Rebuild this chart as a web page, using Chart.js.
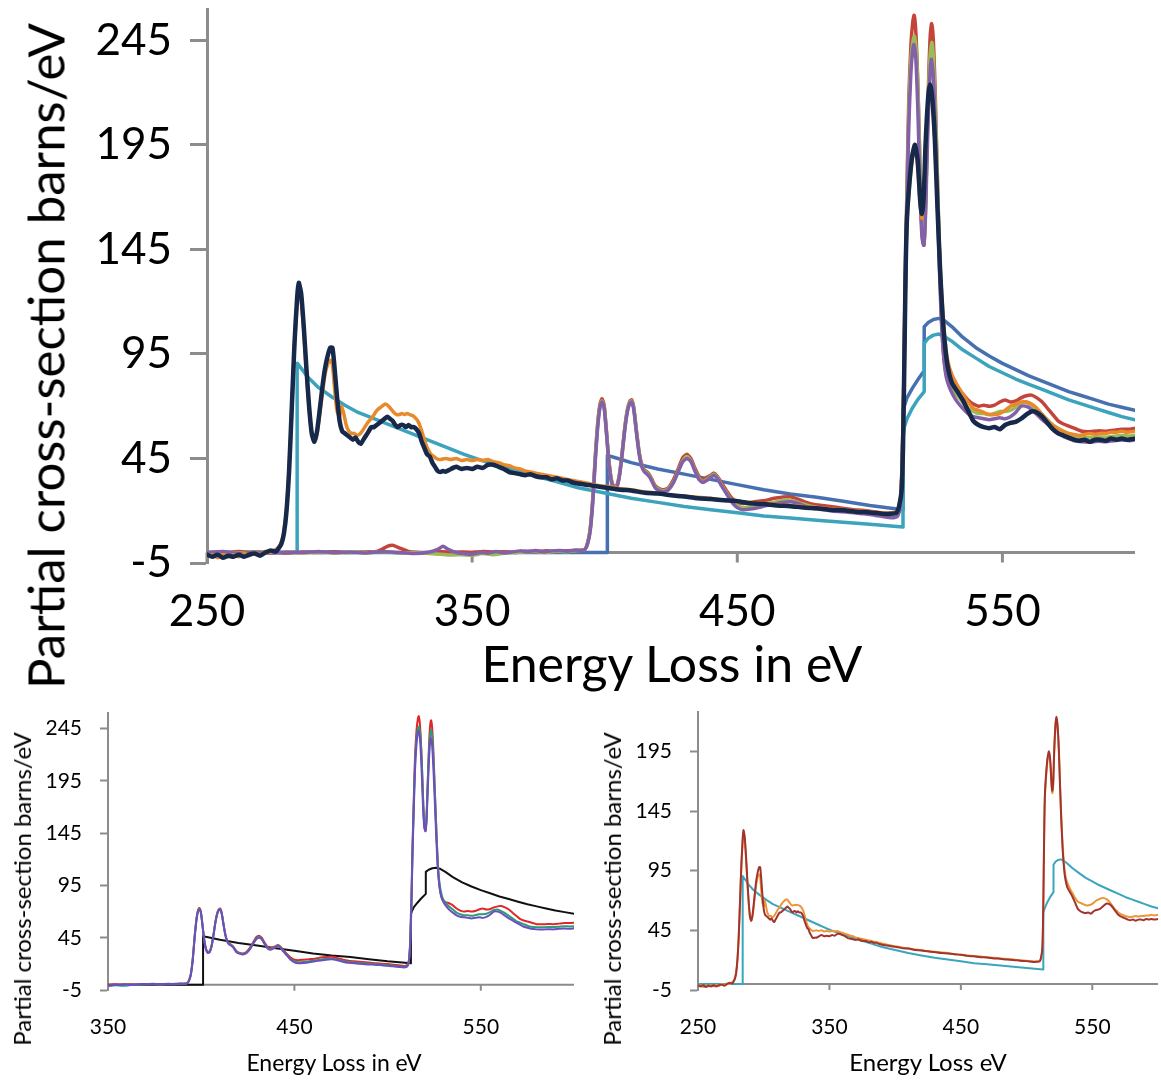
<!DOCTYPE html>
<html>
<head>
<meta charset="utf-8">
<script src="https://cdn.jsdelivr.net/npm/chart.js@4.4.0/dist/chart.umd.min.js"></script>
<style>
  html, body { margin: 0; padding: 0; background: #fff; }
  body { width: 1161px; height: 1083px; position: relative; overflow: hidden; font-family: Lato, "Open Sans", sans-serif; color: #000; }
  canvas { position: absolute; }
  .t { position: absolute; white-space: nowrap; line-height: 1; transform: translate(-50%, -50%); }
  .r { transform: translate(-50%, -50%) rotate(-90deg); }
</style>
</head>
<body>
<canvas id="main" width="1161" height="700" style="left:0;top:0"></canvas>
<canvas id="nitrogen" width="590" height="383" style="left:0;top:700px"></canvas>
<canvas id="carbon" width="571" height="383" style="left:590px;top:700px"></canvas>

<div class="t" style="left:672px;top:663px;font-size:50px">Energy Loss in eV</div>
<div class="t r" style="left:45px;top:356px;font-size:51px">Partial cross-section barns/eV</div>
<div class="t" style="left:334px;top:1062px;font-size:23px">Energy Loss in eV</div>
<div class="t r" style="left:22px;top:889px;font-size:24px">Partial cross-section barns/eV</div>
<div class="t" style="left:928px;top:1062px;font-size:24px">Energy Loss eV</div>
<div class="t r" style="left:612px;top:889px;font-size:24px">Partial cross-section barns/eV</div>

<script>
// Tick positions (eV and barns/eV)
const xTicksWide = [250, 350, 450, 550];
const xTicksNarrow = [350, 450, 550];
const yTicksTall = [-5, 45, 95, 145, 195, 245];
const yTicksShort = [-5, 45, 95, 145, 195];

// Measured carbon-edge spectrum A  [energy eV, cross-section]
const carbonSpecA = [[250,-1],[252,-2],[254,-1],[256,-2.5],[258,-1.5],[260,-2],[262,-1],[264,-2],[266,-1],[268,-0.5],[270,-1.5],[272,0],[274,1],[276,0.5],[277,2],[278,4],[279,9],[280,20],[281,40],[282,70],[283,100],[284,122],[284.6,129],[285.5,124],[286.5,108],[287.5,88],[288.5,70],[289.5,57],[290.5,53],[291.5,58],[292.5,68],[293.5,79],[294.5,88],[295.5,94],[296.5,98],[297.3,98],[298,90],[299,75],[300,63],[301,58],[302,57],[303,56],[304,55],[305,54],[306,55],[307,53],[308,52],[309,54],[310,56],[311,58],[312,60],[313,60],[314,61],[315,62],[316,63],[317,64],[318,65],[319,64],[320,63],[321,61],[322,60],[323,61],[324,61],[325,60],[326,61],[327,60],[328,60],[329,59],[330,57],[331,53],[332,50],[333,47],[334,46],[335,43],[336,41],[337,39],[338,38.5],[339,39],[340,38.7],[342,40],[344,41],[346,40],[348,40.5],[350,40],[352,41],[354,40.5],[356,42],[358,42],[360,41],[362,40],[364,38.5],[366,38],[368,37.5],[370,37],[372,37.5],[374,36.5],[376,36],[378,36],[380,35],[382,35.5],[384,34.5],[386,34.5],[388,33.5],[390,33],[394,32.3],[398,31.5],[402,30.8],[406,30],[410,29.7],[415,28.6],[420,28.2],[425,27.4],[430,26.8],[435,26],[440,25.6],[445,25],[450,24.6],[455,23.6],[460,23.2],[465,22.5],[470,22.2],[475,21.5],[480,21.2],[485,20.5],[490,20.2],[495,19.5],[500,19.2],[505,18.5],[508,18.6],[510,19],[511,22],[512,30],[512.5,50],[513,90],[513.5,135],[514,160],[515,178],[516,190],[517,195],[518,188],[519,168],[519.6,162],[520.3,170],[521,195],[522,218],[522.7,224],[523.5,218],[524.5,198],[525.5,165],[526.5,135],[527.5,112],[528.5,97],[529.5,88],[531,81],[533,77],[535,73],[537,68],[539,63],[541,61],[543,60],[545,59.5],[547,60],[549,59],[551,61],[553,62],[555,62.5],[557,64],[559,66],[561,67.5],[563,67],[565,65],[567,62],[569,59],[571,57],[573,56],[575,55],[577,54],[579,53.5],[581,54],[583,53],[585,54],[587,54],[589,53.5],[591,54.5],[593,54],[595,54.5],[597,54],[600,54.5]];

// Measured carbon-edge spectrum B
const carbonSpecB = [[250,-2],[252,-1],[254,-2.5],[256,-1],[258,-2],[260,-1],[262,-2],[264,-0.5],[266,-1.5],[268,0],[270,-1],[272,0.5],[274,0],[276,1.5],[277,2.5],[278,5],[279,10],[280,21],[281,41],[282,70],[283,99],[284,120],[284.6,126],[285.5,121],[286.5,106],[287.5,86],[288.5,69],[289.5,57],[290.5,53],[291.5,57],[292.5,66],[293.5,76],[294.5,85],[295.5,90],[296.5,92],[297.3,90],[298,80],[299,68],[300,65],[300.6,70],[301.5,67],[302.5,61],[303.5,58],[304.5,57],[305.5,57],[306.5,56],[307.5,56.5],[308.5,58],[309.5,60],[310.5,62],[311.5,63.5],[312.5,65],[313.5,67],[314.5,68.5],[315.5,69.5],[316.5,70.5],[317.5,71],[318.5,70],[319.5,68.5],[320.5,67],[321.5,66],[322.5,66],[323.5,66.5],[324.5,66],[325.5,66.5],[326.5,66],[327.5,65.5],[328.5,64.5],[329.5,63],[330.5,60],[331.5,56],[332.5,52],[333.5,49],[334.5,47],[335.5,46],[336.5,45],[338,44.5],[340,45],[342,44.5],[344,45],[346,44],[348,44.5],[350,44],[352,44.5],[354,44],[356,44.5],[358,43.5],[360,43],[362,42],[364,41.5],[366,40.5],[368,40],[370,39],[372,38.5],[374,38],[376,37.5],[378,37],[380,36.5],[382,36],[384,35.5],[386,35],[388,34.5],[390,34],[394,33],[398,32],[402,31.5],[406,30.5],[410,30],[415,29],[420,28.5],[425,27.5],[430,27],[435,26.5],[440,26],[445,25],[450,24.5],[455,24],[460,23.5],[465,23],[470,22.5],[475,22],[480,21.5],[485,21],[490,20.5],[495,20],[500,19.5],[505,19],[508,19],[510,19.5],[511,22],[512,30],[512.5,50],[513,90],[513.5,133],[514,158],[515,176],[516,188],[517,193],[518,186],[519,166],[519.6,160],[520.3,168],[521,193],[522,216],[522.7,222],[523.5,216],[524.5,197],[525.5,166],[526.5,137],[527.5,115],[528.5,100],[529.5,91],[531,85],[533,80],[535,76],[537,72],[539,69],[541,68],[543,67],[545,66],[547,66],[549,66.5],[551,68],[553,70],[555,71],[557,72],[559,72],[561,71],[563,69],[565,66],[567,63],[569,61],[571,59],[573,58],[575,57],[577,56.5],[579,56],[581,56.5],[583,57],[585,56.5],[587,57],[589,57],[591,57.5],[593,57.5],[595,58],[597,57.5],[600,58]];

// Calculated carbon + oxygen edge cross-section
const carbonTheory = [[250,0],[284,0],[284,90.6],[288,84],[292,79],[297,74.5],[302,70.5],[307,67],[312,64.5],[317,62],[322,59.5],[327,57],[332,54.5],[337,52],[342,49.5],[347,47],[353,44.3],[360,41.5],[366,39.5],[372,37.1],[380,34.5],[390,31],[400,28.5],[410,26],[420,24],[430,22],[440,20.5],[450,19],[460,17.5],[470,16.5],[480,15.5],[490,14.5],[500,13.5],[512.5,12.2],[512.5,55],[513,60],[514,64],[516,69],[518,73],[520.5,77],[520.5,100],[522,102.5],[524,104],[526,104.5],[528,103.5],[531,101],[535,97],[540,93],[545,89],[550,86],[555,83],[560,80.5],[565,78],[570,75.5],[575,73],[580,71],[585,69],[590,67],[595,65],[600,63.5]];

// Calculated nitrogen + oxygen edge cross-section
const nitrogenTheory = [[250,0],[401,0],[401,46.5],[405,45],[410,43],[420,40],[430,37.5],[440,35],[450,32.5],[460,30],[470,28],[480,26.5],[490,24.5],[500,22.5],[512.5,20.5],[512.5,68],[514,74],[516,78.5],[518,82.5],[520.5,87],[520.5,108],[522,110],[524,111.5],[526,112],[528,111],[531,108],[535,103],[540,98],[545,94],[550,90.5],[555,87.5],[560,84.5],[565,82],[570,79.5],[575,77],[580,75],[585,73],[590,71],[595,69.5],[600,68]];

// Measured nitrogen-edge spectra A, B, C
const nitrogenSpecA = [[250,0],[256,-0.3],[262,0.5],[268,0],[274,0.3],[280,-0.2],[286,0.3],[292,0],[298,0.4],[304,0],[310,0.3],[314,0.5],[316,1.5],[318,3],[320,3.5],[322,2.5],[324,1.5],[326,0.5],[330,0],[334,-0.3],[338,0.5],[342,0],[346,0.3],[350,0],[354,0.5],[358,0.2],[362,0.4],[366,0],[370,0.6],[374,0.4],[378,0.8],[382,0.5],[386,0.9],[390,1],[392.5,1.5],[393.5,4.5],[394.5,11],[395.5,26],[396.5,47],[397.5,64],[398.3,71.5],[399,73.5],[399.8,70.5],[400.6,59],[401.5,45],[402.5,35],[403.5,31.5],[404.5,32],[405.5,37],[406.5,47],[407.5,59],[408.5,68],[409.5,72.5],[410.2,73],[411,69],[412,58],[413,48],[414,42],[415,39.5],[416,38.5],[417,37],[418,34.5],[419,32],[420,31],[422,30],[424,31],[426,35],[428,41],[429.5,45.5],[431,47],[432.5,45],[434,40.5],[435.5,36.5],[437,35],[438.5,36],[440,37],[441.2,38],[442.5,36.5],[444,33.5],[446,29.5],[448,26],[450,24],[452,23.5],[455,24],[458,24.5],[461,25],[464,26],[467,26.5],[470,26.7],[473,25.5],[476,24],[479,23],[482,22.5],[485,22],[488,21.5],[491,21],[494,20.5],[497,20.2],[500,19.8],[503,19.2],[506,18.6],[509,18],[510.5,19],[511.3,22],[512,37],[512.7,75],[513.3,128],[514,175],[514.7,218],[515.5,243],[516.2,254],[516.7,257],[517.3,250],[518,228],[518.7,195],[519.3,165],[519.9,149],[520.4,147],[520.9,160],[521.5,192],[522.2,228],[522.8,248],[523.3,253],[523.9,246],[524.6,222],[525.3,188],[526,155],[526.8,120],[527.6,98],[528.4,88],[529.5,82],[531,79],[533,78],[535,76],[537,73],[539,71],[541,70],[543,70.5],[545,70],[547,70.5],[549,72],[551,73],[553,72],[555,72.5],[557,74],[559,75],[561,75.3],[563,74],[565,72],[567,69],[569,66],[571,63],[573,61.5],[575,60.5],[577,59.5],[580,58],[583,57.8],[586,58.2],[589,58],[592,58.5],[595,59],[598,59],[600,59.4]];

const nitrogenSpecB = [[250,0],[256,0.3],[262,-0.2],[268,0.4],[274,0],[280,0.3],[286,-0.2],[292,0.3],[298,-0.3],[304,0.2],[310,0],[316,0.4],[322,-0.2],[328,0],[334,-0.5],[338,-0.8],[342,-1.2],[346,-1],[350,-1.3],[354,-0.5],[358,-1],[362,-0.3],[366,0],[370,0.3],[374,0.5],[378,0],[382,0.6],[386,0.4],[389,0.9],[391,1],[392.5,1.5],[393.5,4.2],[394.5,10.5],[395.5,25],[396.5,46],[397.5,63],[398.3,70.5],[399,72.5],[399.8,69.5],[400.6,58.5],[401.5,44.5],[402.5,34.5],[403.5,31],[404.5,31.5],[405.5,36.5],[406.5,46.5],[407.5,58.5],[408.5,67.5],[409.5,72],[410.2,72.5],[411,68.5],[412,57.5],[413,47.5],[414,41.5],[415,39],[416,38],[417,36.5],[418,34],[419,31.5],[420,30.5],[422,29.5],[424,30.5],[426,34],[428,40],[429.5,44],[431,46],[432.5,44],[434,39.5],[435.5,35.5],[437,34],[438.5,35],[440,36.5],[441.2,37.5],[442.5,36],[444,32.5],[446,28.5],[448,24.5],[450,22.5],[452,21.5],[455,22],[458,22.5],[461,23.5],[464,24],[467,25],[470,25],[473,24],[476,22.8],[479,21.8],[482,21.2],[485,20.8],[488,20.3],[491,20],[494,19.6],[497,19.2],[500,18.8],[503,18.2],[506,17.6],[509,17.2],[510.5,18],[511.3,21.5],[512,36],[512.7,72],[513.3,124],[514,170],[514.7,211],[515.5,236],[516.3,245],[516.8,247],[517.5,240],[518.3,215],[519,180],[519.6,155],[520.2,148],[520.8,157],[521.4,186],[522.1,220],[522.8,239],[523.4,244],[524,236],[524.7,212],[525.5,178],[526.3,142],[527.1,112],[528,95],[529,86],[530,81],[531.5,77.5],[533,75],[535,72],[537,69],[539,67.5],[541,66.5],[543,66.5],[545,66],[547,66.5],[549,67.5],[551,67.5],[553,68],[555,69.5],[557,71.5],[559,72],[561,70.5],[563,68.5],[565,66],[567,63.5],[569,61],[571,59.5],[573,58],[575,56.5],[577,55.5],[580,55],[583,55],[586,55.3],[589,55.2],[592,55.6],[595,56],[598,55.8],[600,56]];

const nitrogenSpecC = [[250,0],[256,0.5],[262,-0.5],[268,0.3],[274,-0.3],[280,0.2],[286,0],[292,0.5],[298,0],[304,0.3],[310,-0.2],[316,0.5],[322,0],[328,-0.5],[334,0.3],[337,1.5],[339,3],[341,1.5],[344,0],[347,-0.5],[350,-0.8],[353,0],[356,-0.3],[359,0.5],[362,-0.2],[365,0.3],[368,0.8],[371,0.5],[374,1],[377,0.3],[380,0.8],[383,1],[386,0.6],[389,1.2],[391,1],[392.5,1.5],[393.5,4],[394.5,10],[395.5,24],[396.5,45],[397.5,62],[398.3,70],[399,72],[399.8,69],[400.6,58],[401.5,44],[402.5,34],[403.5,30.5],[404.5,31],[405.5,36],[406.5,46],[407.5,58],[408.5,67],[409.5,71.5],[410.2,72],[411,68],[412,57],[413,47],[414,41],[415,38.5],[416,37.5],[417,36],[418,33.5],[419,31],[420,30],[422,29],[424,30],[426,33.5],[428,39.5],[429.5,43.5],[431,45],[432.5,43.5],[434,39],[435.5,35],[437,33.5],[438.5,34.5],[440,36],[441.2,37],[442.5,35.5],[444,32],[446,28],[448,24],[450,21.5],[452,20.5],[455,20.8],[458,21.5],[461,22.5],[464,23.2],[467,24],[470,24.3],[473,23.5],[476,22],[479,21],[482,20.6],[485,20],[488,19.6],[491,19.4],[494,19],[497,18.6],[500,18.2],[503,17.6],[506,17],[509,16.6],[510.5,17.5],[511.3,21],[512,35],[512.7,70],[513.3,120],[514,165],[514.7,205],[515.5,230],[516.2,241],[516.6,243],[517.3,237],[518.1,212],[518.9,175],[519.6,152],[520.3,147],[520.9,158],[521.5,185],[522.2,215],[522.8,232],[523.2,236],[523.9,229],[524.6,206],[525.4,172],[526.2,137],[527,110],[527.9,93],[528.8,84],[530,79],[531.5,75],[533,72],[535,69],[537,66.5],[539,65],[541,64.5],[543,64],[545,63.5],[547,64],[549,64.5],[551,64],[553,65],[555,67],[557,70],[559,70],[561,68.5],[563,66],[565,63.5],[567,61.5],[569,59.5],[571,57.5],[573,55.5],[575,54.5],[577,53.5],[580,53],[583,52.8],[586,53.2],[589,53],[592,53.5],[595,53.8],[598,53.5],[600,54]];

const AXIS_GREY = '#8c8c8c';

// Draws the horizontal axis where the value axis crosses zero, with tick marks hanging below it
const zeroAxis = {
  id: 'zeroAxis',
  beforeDatasetsDraw(chart, args, opts) {
    const { ctx, chartArea, scales } = chart;
    const y0 = scales.y.getPixelForValue(0);
    ctx.save();
    ctx.strokeStyle = opts.color;
    ctx.lineWidth = opts.width;
    ctx.beginPath();
    ctx.moveTo(chartArea.left, y0);
    ctx.lineTo(chartArea.right, y0);
    scales.x.ticks.forEach(t => {
      const px = scales.x.getPixelForValue(t.value);
      ctx.moveTo(px, y0);
      ctx.lineTo(px, y0 + opts.len);
    });
    ctx.stroke();
    ctx.restore();
  }
};

function series(points, color, width, tension) {
  return {
    data: points.map(p => ({ x: p[0], y: p[1] })),
    borderColor: color,
    borderWidth: width,
    pointRadius: 0,
    fill: false,
    tension: tension,
    borderJoinStyle: 'round',
    borderCapStyle: 'round'
  };
}

function makeChart(id, c) {
  return new Chart(document.getElementById(id), {
    type: 'line',
    data: { datasets: c.datasets },
    plugins: [zeroAxis],
    options: {
      responsive: false,
      animation: false,
      devicePixelRatio: 1,
      layout: { padding: c.pad },
      plugins: {
        legend: { display: false },
        tooltip: { enabled: false },
        zeroAxis: { color: AXIS_GREY, width: c.axisWidth, len: c.xTickLen }
      },
      scales: {
        x: {
          type: 'linear',
          min: c.xMin, max: c.xMax,
          afterBuildTicks: s => { s.ticks = c.xTicks.map(v => ({ value: v })); },
          afterFit: s => { s.height = c.xHeight; s.paddingLeft = 0; s.paddingRight = 0; },
          grid: { display: false, drawTicks: false },
          border: { display: false },
          ticks: { font: { family: 'Lato', size: c.fontSize }, color: '#000', padding: c.xLabelPad, maxRotation: 0, autoSkip: false }
        },
        y: {
          type: 'linear',
          min: c.yMin, max: c.yMax,
          afterBuildTicks: s => { s.ticks = c.yTicks.map(v => ({ value: v })); },
          afterFit: s => { s.width = c.yWidth; s.paddingTop = 0; s.paddingBottom = 0; },
          grid: { drawOnChartArea: false, drawTicks: true, tickLength: c.yTickLen, tickColor: AXIS_GREY, tickWidth: c.axisWidth },
          border: { display: true, color: AXIS_GREY, width: c.axisWidth },
          ticks: { font: { family: 'Lato', size: c.fontSize }, color: '#000', padding: c.yLabelPad }
        }
      }
    }
  });
}

// Overview: carbon, nitrogen and oxygen edges together
makeChart('main', {
  datasets: [
    series(carbonSpecA, '#17294b', 4.5, 0.2),
    series(carbonSpecB, '#e8892c', 3.5, 0.2),
    series(nitrogenSpecC, '#8361a9', 3.5, 0.2),
    series(nitrogenSpecB, '#9bbb59', 3.5, 0.2),
    series(nitrogenSpecA, '#c4443b', 3.5, 0.2),
    series(carbonTheory, '#3ba3bc', 3.5, 0),
    series(nitrogenTheory, '#4670b0', 3.5, 0)
  ],
  xMin: 250, xMax: 600, yMin: -5, yMax: 260,
  xTicks: xTicksWide, yTicks: yTicksTall,
  pad: { top: 9, right: 26, left: 0, bottom: 0 },
  yWidth: 207, xHeight: 137,
  fontSize: 44, xLabelPad: 22, yLabelPad: 18, yTickLen: 17, xTickLen: 10, axisWidth: 3
});

// Nitrogen edge detail
makeChart('nitrogen', {
  datasets: [
    series(nitrogenSpecC, '#6b4fbf', 2, 0.2),
    series(nitrogenSpecB, '#2a9d78', 2, 0.2),
    series(nitrogenSpecA, '#e1262a', 2, 0.2),
    series(nitrogenTheory, '#111111', 2, 0)
  ],
  xMin: 350, xMax: 600, yMin: -5, yMax: 260,
  xTicks: xTicksNarrow, yTicks: yTicksTall,
  pad: { top: 13, right: 16, left: 0, bottom: 0 },
  yWidth: 108, xHeight: 93,
  fontSize: 21, xLabelPad: 25, yLabelPad: 18, yTickLen: 8, xTickLen: 6, axisWidth: 2
});

// Carbon edge detail
makeChart('carbon', {
  datasets: [
    series(carbonSpecA, '#a2342f', 2, 0.2),
    series(carbonSpecB, '#eb9637', 2, 0.2),
    series(carbonTheory, '#3aa5be', 2, 0)
  ],
  xMin: 250, xMax: 600, yMin: -5, yMax: 228,
  xTicks: xTicksWide, yTicks: yTicksShort,
  pad: { top: 12, right: 3, left: 0, bottom: 0 },
  yWidth: 108, xHeight: 93,
  fontSize: 21, xLabelPad: 25, yLabelPad: 18, yTickLen: 8, xTickLen: 6, axisWidth: 2
});
</script>
</body>
</html>
